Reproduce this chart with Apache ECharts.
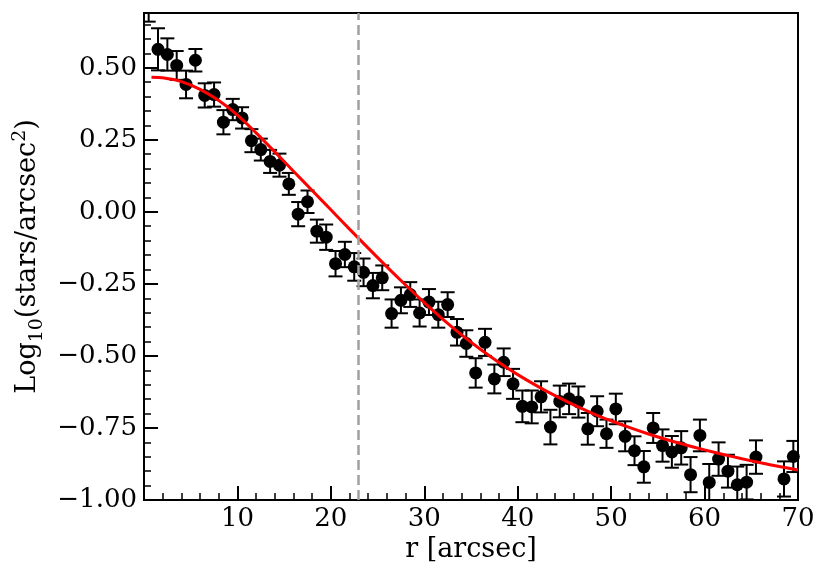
<!DOCTYPE html>
<html lang="en">
<head>
    <meta charset="UTF-8">
    <title>Radial density profile</title>
    <script src="https://cdn.jsdelivr.net/npm/echarts@6/dist/echarts.min.js"></script>
    <style>
        html, body { margin: 0; padding: 0; background: #fff; }
        #show_div { width: 830px; height: 581px; }
    </style>
</head>
<body>
<div id="show_div"></div>
<script>
    // binned radius [arcsec]
    var r_list = [0.5, 1.5, 2.5, 3.5, 4.5, 5.5, 6.5, 7.5, 8.5, 9.5,
        10.5, 11.5, 12.5, 13.5, 14.5, 15.5, 16.5, 17.5, 18.5, 19.5,
        20.5, 21.5, 22.5, 23.5, 24.5, 25.5, 26.5, 27.5, 28.5, 29.5,
        30.5, 31.5, 32.5, 33.5, 34.5, 35.5, 36.5, 37.5, 38.5, 39.5,
        40.5, 41.5, 42.5, 43.5, 44.5, 45.5, 46.5, 47.5, 48.5, 49.5,
        50.5, 51.5, 52.5, 53.5, 54.5, 55.5, 56.5, 57.5, 58.5, 59.5,
        60.5, 61.5, 62.5, 63.5, 64.5, 65.5, 68.5, 69.5];
    // log10 density
    var dens_list = [0.78, 0.564, 0.546, 0.508, 0.442, 0.526, 0.404, 0.407, 0.311, 0.355,
        0.326, 0.247, 0.216, 0.175, 0.162, 0.097, -0.008, 0.035, -0.067, -0.088,
        -0.18, -0.148, -0.191, -0.21, -0.256, -0.229, -0.353, -0.307, -0.287, -0.351,
        -0.313, -0.357, -0.322, -0.418, -0.457, -0.559, -0.453, -0.58, -0.522, -0.597,
        -0.675, -0.677, -0.642, -0.747, -0.658, -0.649, -0.66, -0.753, -0.692, -0.77,
        -0.684, -0.779, -0.829, -0.885, -0.75, -0.811, -0.833, -0.819, -0.912, -0.776,
        -0.939, -0.858, -0.9, -0.947, -0.938, -0.851, -0.927, -0.849];
    // error
    var err_list = [0.12, 0.073, 0.056, 0.05, 0.048, 0.039, 0.042, 0.042, 0.042, 0.037,
        0.037, 0.04, 0.038, 0.04, 0.04, 0.038, 0.042, 0.039, 0.04, 0.044,
        0.044, 0.044, 0.048, 0.048, 0.044, 0.043, 0.049, 0.045, 0.043, 0.047,
        0.045, 0.045, 0.043, 0.046, 0.046, 0.051, 0.047, 0.05, 0.048, 0.052,
        0.055, 0.057, 0.054, 0.06, 0.055, 0.053, 0.054, 0.055, 0.052, 0.049,
        0.053, 0.052, 0.05, 0.055, 0.052, 0.056, 0.055, 0.058, 0.061, 0.055,
        0.064, 0.058, 0.057, 0.063, 0.06, 0.058, 0.061, 0.054];
    // fitted profile (red)
    var fit_r_list = [0.8, 2, 4, 6, 8, 10, 12, 14, 16, 18, 20, 22, 24, 26, 28, 30, 32, 34, 36,
        38, 40, 42, 44, 46, 48, 50, 52, 54, 56, 58, 60, 62, 64, 66, 68, 70];
    var fit_y_list = [0.467, 0.465, 0.452, 0.425, 0.386, 0.336, 0.274, 0.208, 0.141, 0.074, 0.007,
        -0.06, -0.126, -0.191, -0.254, -0.315, -0.373, -0.427, -0.477, -0.523, -0.565, -0.603,
        -0.638, -0.67, -0.699, -0.725, -0.749, -0.771, -0.791, -0.809, -0.826, -0.842, -0.857,
        -0.871, -0.884, -0.896];
    var r_vline = 22.9;

    var font = 'DejaVu Serif';
    var points = [], bars = [], fit = [];
    for (var i = 0; i < r_list.length; i++) {
        points.push([r_list[i], dens_list[i]]);
        bars.push([r_list[i], dens_list[i] - err_list[i], dens_list[i] + err_list[i]]);
    }
    for (var j = 0; j < fit_r_list.length; j++) {
        fit.push([fit_r_list[j], fit_y_list[j]]);
    }

    function render_bar(params, api) {
        var x = api.value(0);
        var lo = api.coord([x, api.value(1)]);
        var hi = api.coord([x, api.value(2)]);
        var cap = 7;
        var st = {stroke: '#000', lineWidth: 2};
        return {
            type: 'group',
            children: [
                {type: 'line', shape: {x1: lo[0], y1: lo[1], x2: hi[0], y2: hi[1]}, style: st},
                {type: 'line', shape: {x1: lo[0] - cap, y1: lo[1], x2: lo[0] + cap, y2: lo[1]}, style: st},
                {type: 'line', shape: {x1: hi[0] - cap, y1: hi[1], x2: hi[0] + cap, y2: hi[1]}, style: st}
            ]
        };
    }

    var myChart = echarts.init(document.getElementById('show_div'));
    var option = {
        animation: false,
        grid: {left: 144, right: 32, top: 13, bottom: 81, show: true, borderColor: '#000', borderWidth: 2},
        xAxis: {
            type: 'value', min: 0, max: 70, interval: 10,
            name: 'r [arcsec]', nameLocation: 'middle', nameGap: 36,
            nameTextStyle: {fontFamily: font, fontSize: 27, color: '#000'},
            axisLine: {onZero: false, lineStyle: {color: '#000', width: 2}},
            axisTick: {inside: true, length: 14, lineStyle: {color: '#000', width: 2}},
            minorTick: {show: true, splitNumber: 5, length: 7, lineStyle: {color: '#000', width: 1.5}},
            splitLine: {show: false},
            axisLabel: {fontFamily: font, fontSize: 26, color: '#000', margin: 6,
                formatter: function (v) { return v === 0 ? '' : String(v); }}
        },
        yAxis: {
            type: 'value', min: -1, max: 0.69, interval: 0.25,
            name: '{a|Log}{s|10}{a|(stars/arcsec}{p|2}{a|)}',
            nameLocation: 'middle', nameGap: 96, nameRotate: 90,
            nameTextStyle: {
                rich: {
                    a: {fontFamily: font, fontSize: 27, color: '#000', lineHeight: 36},
                    s: {fontFamily: font, fontSize: 19, color: '#000', lineHeight: 36, verticalAlign: 'bottom'},
                    p: {fontFamily: font, fontSize: 19, color: '#000', lineHeight: 36, verticalAlign: 'top'}
                }
            },
            axisLine: {onZero: false, lineStyle: {color: '#000', width: 2}},
            axisTick: {inside: true, length: 14, lineStyle: {color: '#000', width: 2}},
            minorTick: {show: true, splitNumber: 5, length: 7, lineStyle: {color: '#000', width: 1.5}},
            splitLine: {show: false},
            axisLabel: {fontFamily: font, fontSize: 26, color: '#000', margin: 7, showMaxLabel: false,
                formatter: function (v) { return (v < 0 ? '\u2212' : '') + Math.abs(v).toFixed(2); }}
        },
        series: [
            {
                type: 'custom', data: bars, renderItem: render_bar, clip: true, z: 2,
                encode: {x: 0, y: [1, 2]}
            },
            {
                type: 'scatter', data: points, symbolSize: 13, clip: true, z: 3,
                itemStyle: {color: '#000', opacity: 1}
            },
            {
                type: 'line', data: fit, showSymbol: false, smooth: 0.3, z: 4,
                lineStyle: {color: '#ff0000', width: 3},
                markLine: {
                    silent: true, symbol: 'none', label: {show: false},
                    lineStyle: {color: '#a0a0a0', width: 2.5, type: [10, 5]},
                    data: [{xAxis: r_vline}]
                }
            }
        ]
    };
    myChart.setOption(option);
</script>
</body>
</html>
